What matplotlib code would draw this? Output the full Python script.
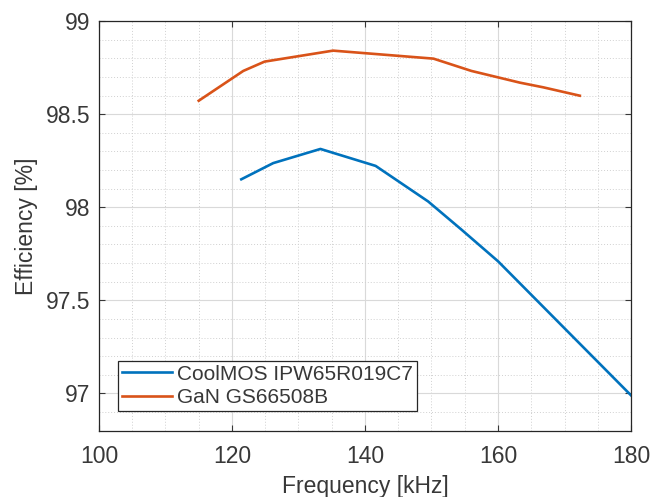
import matplotlib
matplotlib.use("Agg")
import matplotlib.pyplot as plt
from matplotlib.ticker import MultipleLocator

plt.rcParams['font.family'] = ['Liberation Sans', 'DejaVu Sans']

freq_coolmos = [121.4, 126.2, 133.3, 141.6, 149.5, 154.5, 160.0, 170.0, 180.0]
eff_coolmos = [98.15, 98.237, 98.313, 98.222, 98.031, 97.88, 97.71, 97.35, 96.99]

freq_gan = [115.0, 121.7, 124.9, 135.2, 150.3, 156.0, 163.3, 166.8, 172.3]
eff_gan = [98.572, 98.732, 98.782, 98.841, 98.798, 98.732, 98.669, 98.644, 98.599]

labels = ['CoolMOS IPW65R019C7', 'GaN GS66508B']
xticks = [100, 120, 140, 160, 180]
yticks = [97, 97.5, 98, 98.5, 99]
yticklabels = ['97', '97.5', '98', '98.5', '99']

txt = '#383838'

fig = plt.figure(figsize=(6.52, 4.97), dpi=100)
ax = fig.add_axes([0.1518, 0.1334, 0.8160, 0.8243])

ax.plot(freq_coolmos, eff_coolmos, color='#0072BD', lw=1.9, label=labels[0])
ax.plot(freq_gan, eff_gan, color='#D95319', lw=1.9, label=labels[1])

ax.set_xlim(100, 180)
ax.set_ylim(96.8, 99)
ax.set_xticks(xticks)
ax.set_yticks(yticks)
ax.set_yticklabels(yticklabels)
ax.xaxis.set_minor_locator(MultipleLocator(5))
ax.yaxis.set_minor_locator(MultipleLocator(0.1))

ax.grid(True, which='major', color='#d9d9d9', lw=0.8, ls='-')
ax.grid(True, which='minor', color='#d0d0d0', lw=0.7, ls=(0, (1, 2)))
ax.set_axisbelow(True)

ax.tick_params(which='major', direction='in', length=4, width=0.8, top=True, right=True,
               labelsize=16.5, colors=txt)
ax.tick_params(axis='x', which='major', pad=10)
ax.tick_params(axis='y', which='major', pad=6)
ax.tick_params(which='minor', length=0, top=True, right=True)
for s in ax.spines.values():
    s.set_color('#262626')
    s.set_linewidth(0.9)

ax.set_xlabel('Frequency [kHz]', fontsize=16.5, color=txt, labelpad=5)
ax.set_ylabel('Efficiency [%]', fontsize=16.5, color=txt, labelpad=6)

leg = ax.legend(loc='lower left', bbox_to_anchor=(0.036, 0.049), borderaxespad=0,
                fontsize=15.0, fancybox=False, framealpha=1, edgecolor='#262626',
                handlelength=2.4, handletextpad=0.25, borderpad=0.18, labelspacing=0.2)
leg.get_frame().set_linewidth(0.9)
for t in leg.get_texts():
    t.set_color(txt)

fig.savefig('out.png', dpi=100)
